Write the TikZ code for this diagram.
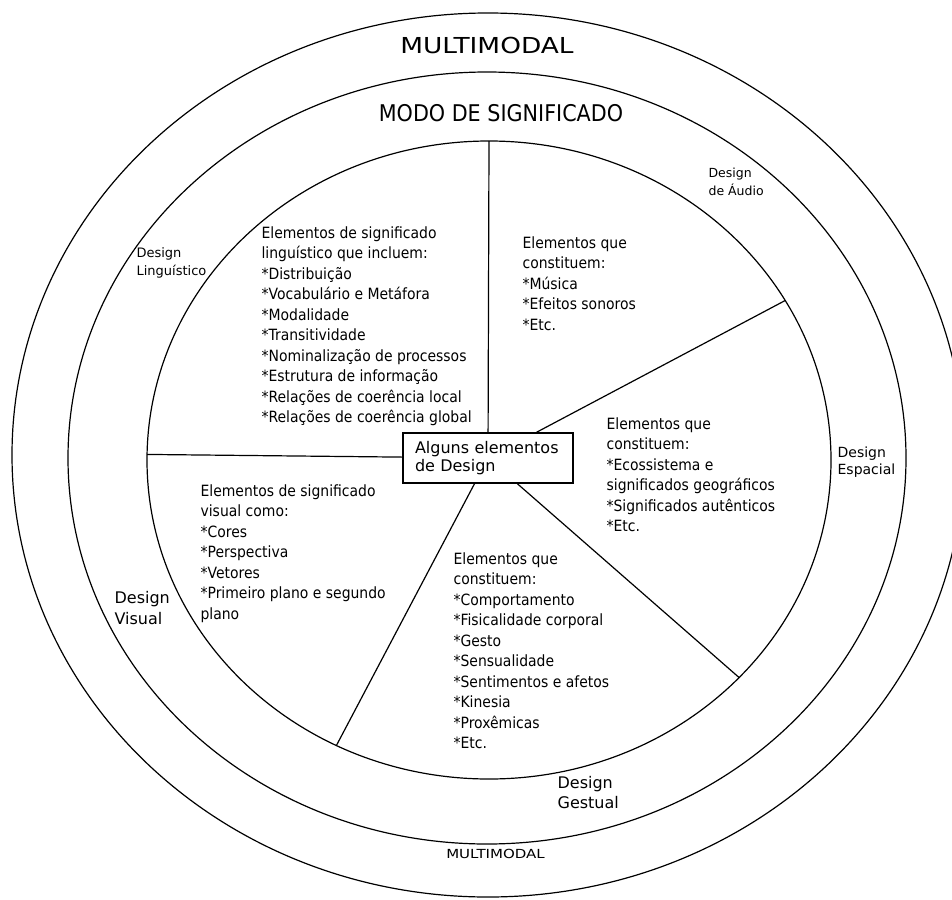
\documentclass[tikz,border=0pt]{standalone}
\usepackage{fontspec}
\setmainfont{DejaVu Sans}
\newfontfamily\condfont[FakeStretch=0.9]{DejaVu Sans}
\newfontfamily\widefont[FakeStretch=1.2]{DejaVu Sans}
\usetikzlibrary{calc}

\begin{document}
\begin{tikzpicture}[x=1pt,y=-1pt,line width=1.2pt,
  elems/.style={anchor=base west,align=left,inner sep=0pt,
    font=\condfont\fontsize{15.5}{20.5}\selectfont},
  design/.style={anchor=base west,align=left,inner sep=0pt},
  title/.style={anchor=base,inner sep=0pt}]
\useasboundingbox (0,0) rectangle (952,899);
\clip (0,0) rectangle (952,899);

% rings
\draw (488,455) ellipse [x radius=476, y radius=442];
\draw (487,458) ellipse [x radius=419, y radius=386];
\draw (489,460) ellipse [x radius=342, y radius=319];

\node[title,font=\widefont\fontsize{22}{22}\selectfont] (multitop) at (487,53) {MULTIMODAL};
\node[title,font=\condfont\fontsize{23}{23}\selectfont] (modo) at (501,121) {MODO DE SIGNIFICADO};
\node[title,font=\widefont\fontsize{12.5}{12.5}\selectfont] (multibot) at (495.5,858) {MULTIMODAL};

% centre box and spokes
\node[draw,line width=1.5pt,inner xsep=12pt,inner ysep=0pt,text width=146pt,
  minimum height=50pt,align=left,font=\fontsize{16}{18.3}\selectfont]
  (box) at (488,458) {Alguns elementos\\de Design};

\coordinate (c) at (489,460);
\foreach \t/\n in {-90/n,-30/ne,43/se,116.5/sw,181/w}
  \coordinate (rim\n) at ($(c)+(\t:342 and 319)$);
\foreach \n in {n,ne,se,sw,w}
  \draw (box) -- (rim\n);

% sectors (base = last line)
\node[elems] (ling) at (261,422.5) {Elementos de significado\\linguístico que incluem:\\{}*Distribuição\\{}*Vocabulário e Metáfora\\{}*Modalidade\\{}*Transitividade\\{}*Nominalização de processos\\{}*Estrutura de informação\\{}*Relações de coerência local\\{}*Relações de coerência global};
\node[elems] (audio) at (522,330) {Elementos que\\constituem:\\{}*Música\\{}*Efeitos sonoros\\{}*Etc.};
\node[elems] (espacial) at (606,531.5) {Elementos que\\constituem:\\{}*Ecossistema e\\significados geográficos\\{}*Significados autênticos\\{}*Etc.};
\node[elems] (visual) at (200,619) {Elementos de significado\\visual como:\\{}*Cores\\{}*Perspectiva\\{}*Vetores\\{}*Primeiro plano e segundo\\plano};
\node[elems] (gestual) at (453,748.5) {Elementos que\\constituem:\\{}*Comportamento\\{}*Fisicalidade corporal\\{}*Gesto\\{}*Sensualidade\\{}*Sentimentos e afetos\\{}*Kinesia\\{}*Proxêmicas\\{}*Etc.};

% design labels
\node[design,font=\fontsize{13}{18.5}\selectfont] (dling) at (136,275.5) {Design\\Linguístico};
\node[design,font=\fontsize{12.5}{18.5}\selectfont] (daudio) at (708,195.5) {Design\\de Áudio};
\node[design,font=\fontsize{14}{17.7}\selectfont] (despacial) at (837,474.7) {Design\\Espacial};
\node[design,font=\fontsize{16}{21}\selectfont] (dvisual) at (114,624) {Design\\Visual};
\node[design,font=\fontsize{16}{20}\selectfont] (dgestual) at (557,808) {Design\\Gestual};
\end{tikzpicture}
\end{document}
